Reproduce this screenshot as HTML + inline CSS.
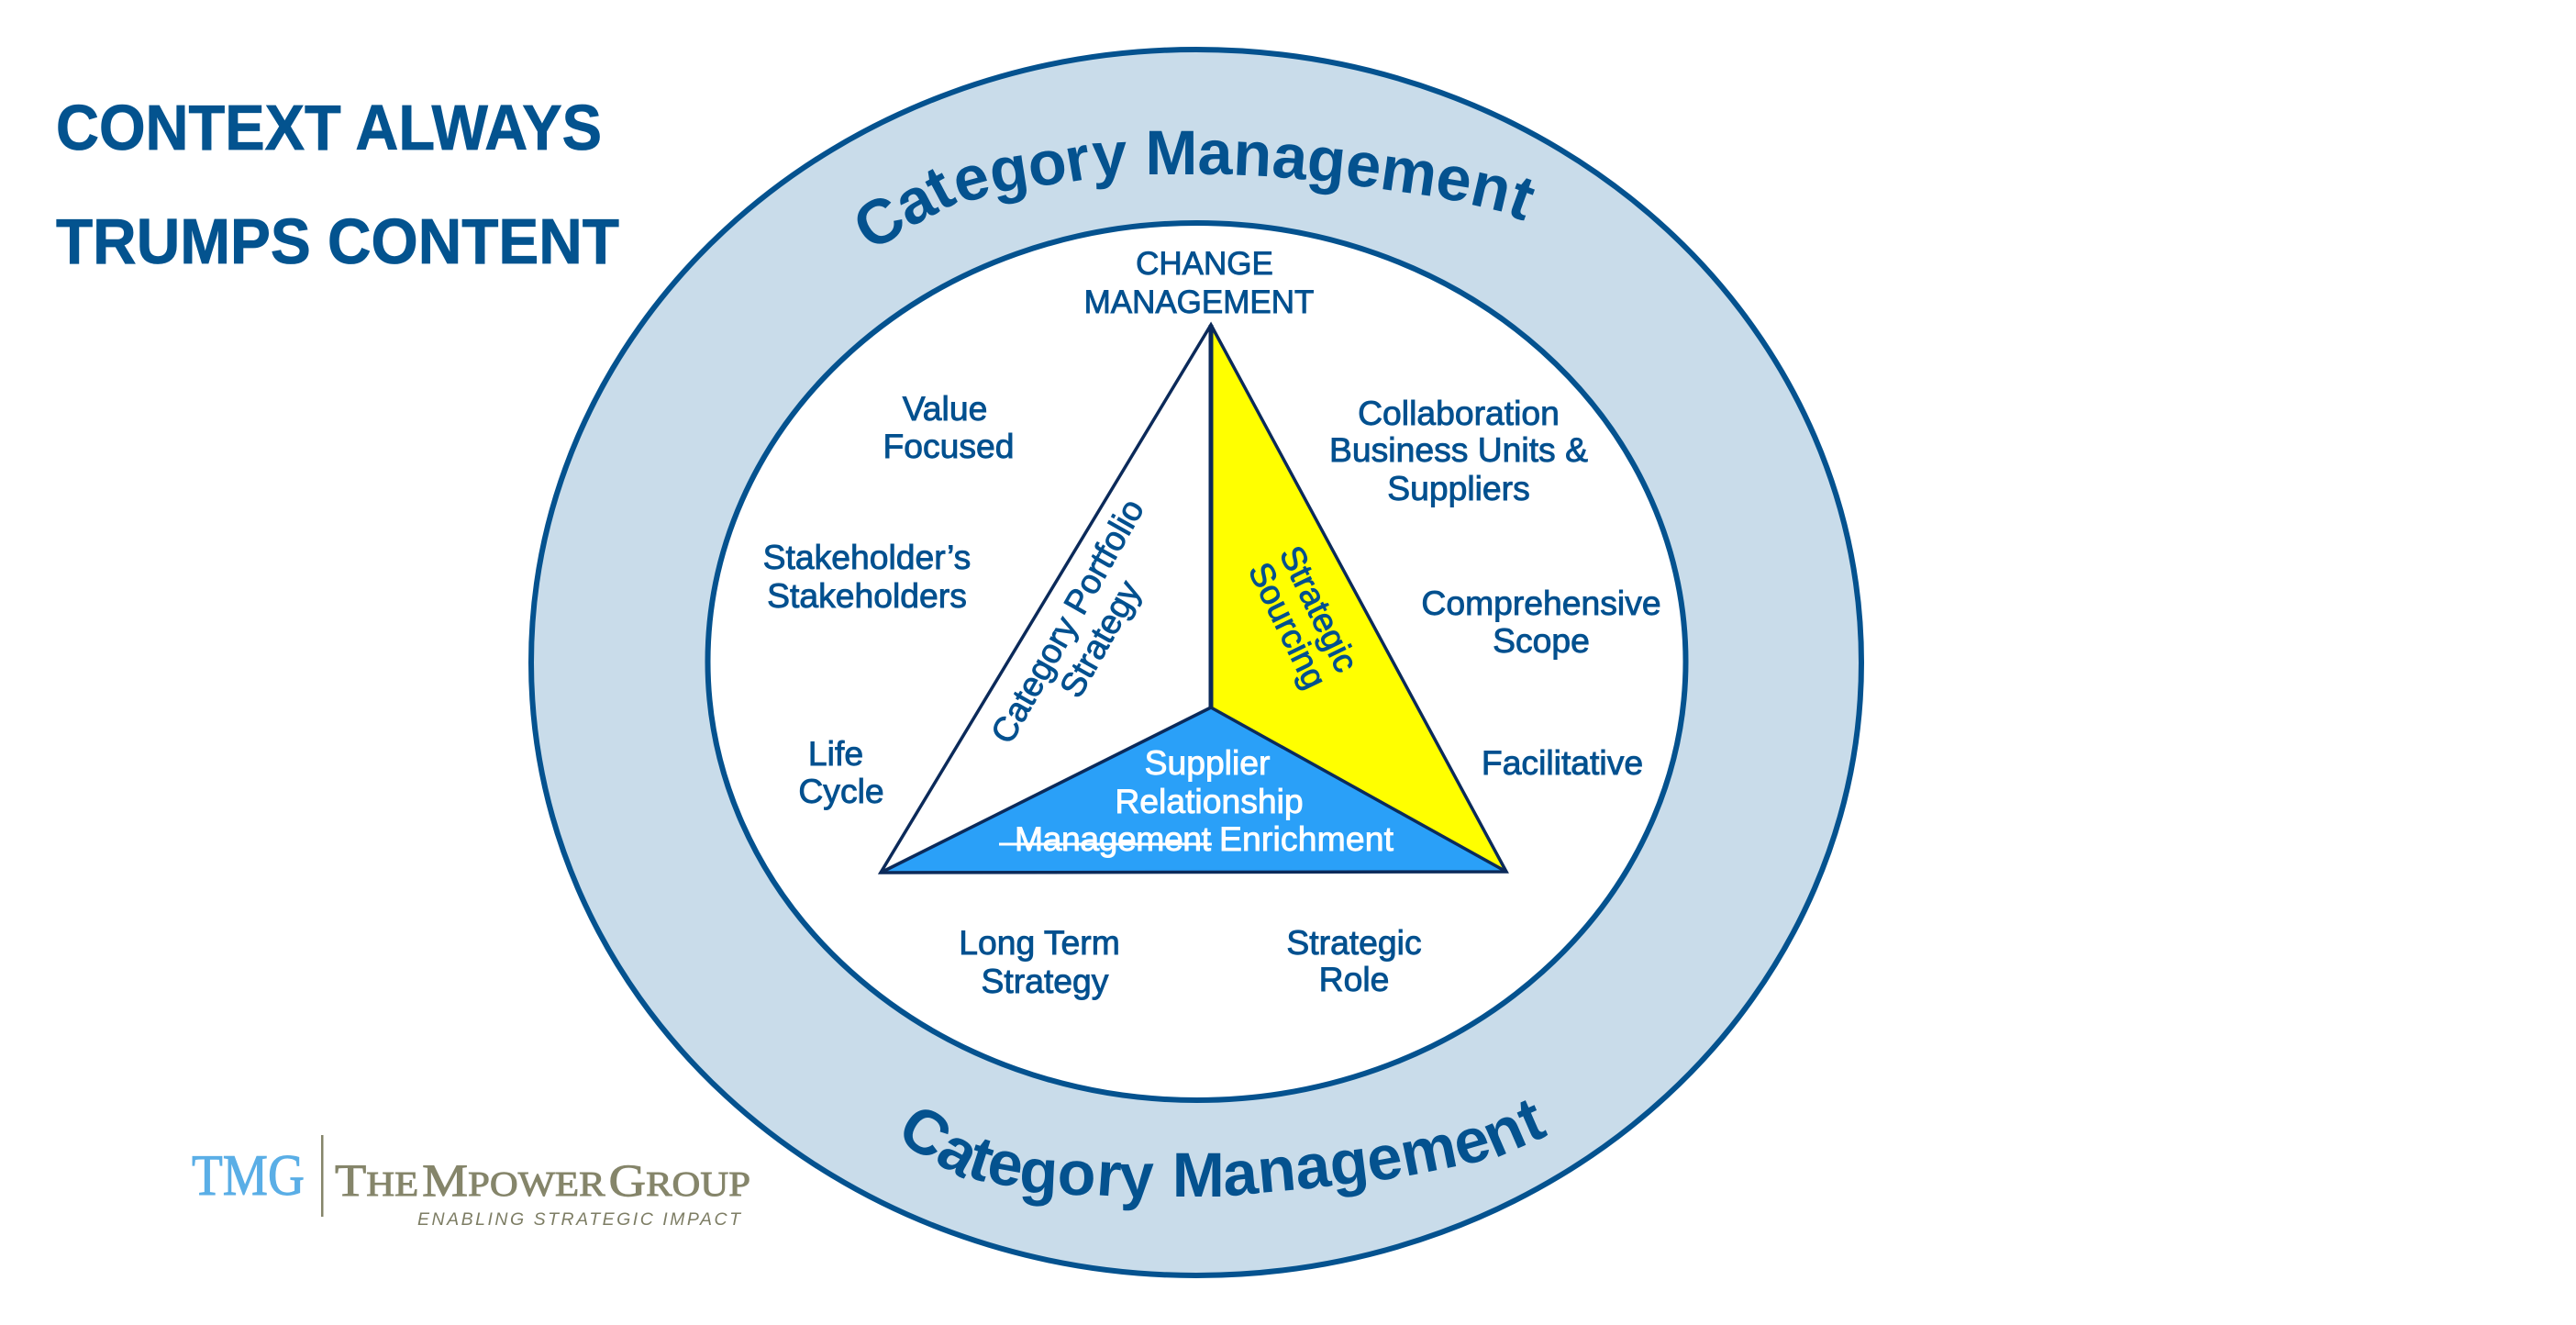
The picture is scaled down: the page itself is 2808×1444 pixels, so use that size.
<!DOCTYPE html>
<html><head><meta charset="utf-8"><style>
html,body{margin:0;padding:0;background:#fff}
svg{display:block}
.l{font-family:"Liberation Sans",sans-serif;font-size:37.3px;fill:#02508f;stroke:#02508f;stroke-width:.9px;text-anchor:middle}
.u{font-size:35px}
.w{fill:#fff;stroke:#fff}
.s{text-anchor:start}
.c{font-family:"Liberation Sans",sans-serif;font-weight:bold;font-size:68.5px;fill:#04528f;letter-spacing:0}
.h{font-family:"Liberation Sans",sans-serif;font-weight:bold;font-size:70px;fill:#03538f;stroke:#03538f;stroke-width:.8px}
.g{font-family:"Liberation Serif",serif;fill:#85856a;stroke:#85856a;stroke-width:.9px;word-spacing:-6px}
</style></head><body>
<svg width="2808" height="1444" viewBox="0 0 2808 1444" xmlns="http://www.w3.org/2000/svg">
<rect width="2808" height="1444" fill="#fff"/>
<ellipse cx="1304" cy="722" rx="725" ry="668" fill="#c9dcea" stroke="#04528f" stroke-width="6"/>
<ellipse cx="1304.5" cy="721" rx="533" ry="478" fill="#fff" stroke="#04528f" stroke-width="6"/>

<defs>
<path id="top" d="M951 277 L960 268 L1003 242 L1035 225 L1068 216 L1100 208 L1138 202 L1174 197 L1203 192 L1252 190 L1300 190 L1334 190 L1377 192 L1404 194 L1447 198 L1485 203 L1534 210 L1583 218 L1626 228 L1659 240 L1690 252"/>
<path id="bot" d="M975 1240 L1000 1256 L1035 1276 L1069 1287 L1097 1292 L1129 1300 L1171 1302 L1206 1303 L1234 1305 L1283 1304 L1333 1304 L1353 1302 L1385 1299 L1428 1295 L1472 1290 L1512 1285 L1557 1277 L1607 1267 L1642 1257 L1681 1240 L1710 1225"/>
</defs>
<text class="c"><textPath href="#top">Category Management</textPath></text>
<text class="c"><textPath href="#bot">Category Management</textPath></text>

<polygon points="1320,354 1320,771 960,951" fill="#fff"/>
<polygon points="1320,354 1320,771 1642,950" fill="#ffff00"/>
<polygon points="1320,771 960,951 1642,950" fill="#2aa0f8"/>
<g fill="none" stroke="#0b2a5a" stroke-linejoin="miter">
<polygon points="1320,354 1642,950 960,951" stroke-width="3.5"/>
<line x1="1320" y1="354" x2="1320" y2="771" stroke-width="5"/>
<line x1="1320" y1="771" x2="960" y2="951" stroke-width="3.5"/>
<line x1="1320" y1="771" x2="1642" y2="950" stroke-width="3.5"/>
</g>

<text class="h" x="61" y="163" textLength="595" lengthAdjust="spacingAndGlyphs">CONTEXT ALWAYS</text>
<text class="h" x="61" y="287" textLength="614" lengthAdjust="spacingAndGlyphs">TRUMPS CONTENT</text>

<text class="l u" x="1313" y="299">CHANGE</text>
<text class="l u" x="1307" y="341">MANAGEMENT</text>
<text class="l" x="1030" y="458">Value</text>
<text class="l" x="1034" y="499">Focused</text>
<text class="l" x="945" y="620">Stakeholder’s</text>
<text class="l" x="945" y="662">Stakeholders</text>
<text class="l" x="911" y="834">Life</text>
<text class="l" x="917" y="875">Cycle</text>
<text class="l" x="1590" y="463">Collaboration</text>
<text class="l" x="1590" y="503">Business Units &amp;</text>
<text class="l" x="1590" y="545">Suppliers</text>
<text class="l" x="1680" y="670">Comprehensive</text>
<text class="l" x="1680" y="711">Scope</text>
<text class="l" x="1703" y="844">Facilitative</text>
<text class="l" x="1133" y="1040">Long Term</text>
<text class="l" x="1139" y="1082">Strategy</text>
<text class="l" x="1476" y="1040">Strategic</text>
<text class="l" x="1476" y="1080">Role</text>

<text class="l w" x="1316" y="844">Supplier</text>
<text class="l w" x="1318" y="886">Relationship</text>
<text class="l w s" x="1106" y="927" textLength="214">Management</text>
<line x1="1089" y1="920" x2="1321" y2="920" stroke="#fff" stroke-width="3"/>
<text class="l w s" x="1329" y="927" textLength="190">Enrichment</text>

<text class="l s" transform="translate(1101,813) rotate(-60.5)">Category Portfolio</text>
<text class="l s" transform="translate(1176,763) rotate(-60.5)">Strategy</text>
<text class="l s" transform="translate(1394,603) rotate(64)">Strategic</text>
<text class="l s" transform="translate(1360,621) rotate(64)">Sourcing</text>

<text x="209" y="1302" font-family="Liberation Serif, serif" font-size="64" fill="#5aaee6" stroke="#5aaee6" stroke-width="1" textLength="123" lengthAdjust="spacingAndGlyphs">TMG</text>
<rect x="350" y="1237" width="2.5" height="89" fill="#85856a"/>
<text class="g" x="365" y="1303" textLength="453" lengthAdjust="spacingAndGlyphs"><tspan font-size="50">T</tspan><tspan font-size="38">HE </tspan><tspan font-size="50">M</tspan><tspan font-size="38">POWER </tspan><tspan font-size="50">G</tspan><tspan font-size="38">ROUP</tspan></text>
<text x="455" y="1335" font-family="Liberation Sans, sans-serif" font-style="italic" font-size="19.5" fill="#7d7d64" textLength="352" lengthAdjust="spacing">ENABLING STRATEGIC IMPACT</text>
</svg>
</body></html>
